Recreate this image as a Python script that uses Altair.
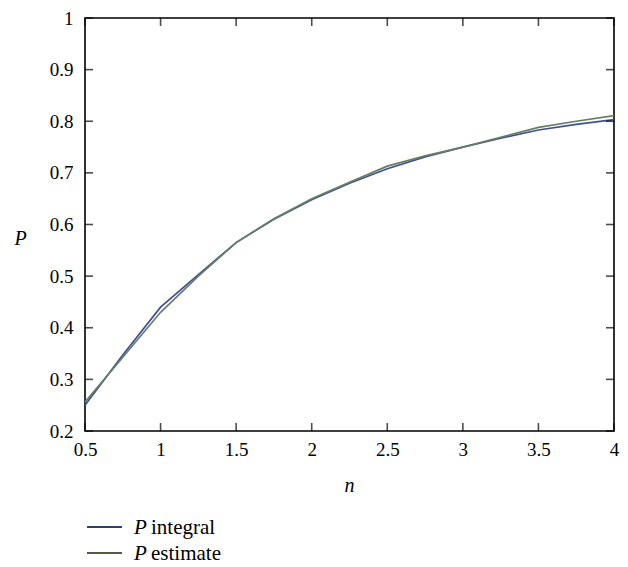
import altair as alt
import pandas as pd

# ---- data ----
n_values = [0.5, 0.75, 1.0, 1.25, 1.5, 1.75, 2.0, 2.25, 2.5, 2.75, 3.0, 3.25, 3.5, 3.75, 4.0]
p_integral = [0.250, 0.347, 0.440, 0.503, 0.565, 0.610, 0.648, 0.680, 0.708, 0.731, 0.750, 0.767, 0.783, 0.794, 0.803]
p_estimate = [0.256, 0.343, 0.430, 0.500, 0.565, 0.611, 0.650, 0.682, 0.713, 0.733, 0.750, 0.769, 0.788, 0.800, 0.811]
series_names = ["P integral", "P estimate"]
legend_words = ["integral", "estimate"]
x_ticks = [0.5, 1.0, 1.5, 2.0, 2.5, 3.0, 3.5, 4.0]
y_ticks = [0.2, 0.3, 0.4, 0.5, 0.6, 0.7, 0.8, 0.9, 1.0]

line_colors = ["#3f4f95", "#667f62"]
legend_colors = ["#2d4266", "#4e5f40"]

W, H = 529, 413
TOP = 10
FONT = "Liberation Serif"

rows = []
for name, vals in zip(series_names, [p_integral, p_estimate]):
    for n, p in zip(n_values, vals):
        rows.append({"n": n, "P": p, "series": name})
df = pd.DataFrame(rows)

xscale = alt.Scale(domain=[0.5, 4.0], nice=False, zero=False)
yscale = alt.Scale(domain=[0.2, 1.0], nice=False, zero=False)

common = dict(ticks=False, domain=False, grid=False, labelFlush=False,
              labelFont=FONT, labelFontSize=19, labelColor="black",
              titleFont=FONT, titleFontSize=20, titleFontStyle="italic",
              titleFontWeight="normal", titleColor="black")
xaxis = alt.Axis(values=x_ticks, format="~g", title="n", labelPadding=9,
                 titleX=264, titleY=54, titleBaseline="middle", titleAlign="center", **common)
yaxis = alt.Axis(values=y_ticks, format="~g", title="P", labelPadding=12, titleAngle=0,
                 titleX=-65, titleY=220, titleAlign="center", titleBaseline="middle", **common)

lines = alt.Chart(df).mark_line(strokeWidth=1.7).encode(
    x=alt.X("n:Q", scale=xscale, axis=xaxis),
    y=alt.Y("P:Q", scale=yscale, axis=yaxis),
    color=alt.Color("series:N", scale=alt.Scale(domain=series_names, range=line_colors), legend=None),
    order=alt.Order("series:N", sort="descending"),
)

xt = pd.DataFrame({"n": x_ticks})
yt = pd.DataFrame({"P": y_ticks})
tick_style = dict(color="black", thickness=1.6, size=8)

bottom_ticks = alt.Chart(xt).mark_tick(orient="vertical", **tick_style).encode(
    x=alt.X("n:Q", scale=xscale, axis=xaxis), y=alt.value(H - 4))
top_ticks = alt.Chart(xt).mark_tick(orient="vertical", **tick_style).encode(
    x=alt.X("n:Q", scale=xscale, axis=xaxis), y=alt.value(4))
left_ticks = alt.Chart(yt).mark_tick(orient="horizontal", **tick_style).encode(
    y=alt.Y("P:Q", scale=yscale, axis=yaxis), x=alt.value(4))
right_ticks = alt.Chart(yt).mark_tick(orient="horizontal", **tick_style).encode(
    y=alt.Y("P:Q", scale=yscale, axis=yaxis), x=alt.value(W - 4))

# manual legend (italic P + upright word)
legend_layers = []
row_y = [519 - TOP, 545 - TOP]
for i in range(2):
    d = pd.DataFrame({"p": ["P"], "w": [legend_words[i]]})
    legend_layers.append(
        alt.Chart(d).mark_rule(color=legend_colors[i], strokeWidth=2).encode(
            x=alt.value(2), x2=alt.value(37), y=alt.value(row_y[i])))
    legend_layers.append(
        alt.Chart(d).mark_text(font=FONT, fontSize=21, fontStyle="italic", align="left",
                               baseline="alphabetic", color="black").encode(
            text="p:N", x=alt.value(49), y=alt.value(row_y[i] + 7)))
    legend_layers.append(
        alt.Chart(d).mark_text(font=FONT, fontSize=21, align="left",
                               baseline="alphabetic", color="black").encode(
            text="w:N", x=alt.value(66), y=alt.value(row_y[i] + 7)))

chart = alt.layer(
    lines, bottom_ticks, top_ticks, left_ticks, right_ticks, *legend_layers
).properties(
    width=W, height=H,
    autosize=alt.AutoSizeParams(type="none"),
    padding={"left": 77, "top": TOP, "right": 6, "bottom": 136},
).configure(
    font=FONT
).configure_axis(
    labelFont=FONT, titleFont=FONT
).configure_view(
    stroke="black", strokeWidth=1.6
)

chart.save("out.html", embed_options={"renderer": "svg", "actions": False})
